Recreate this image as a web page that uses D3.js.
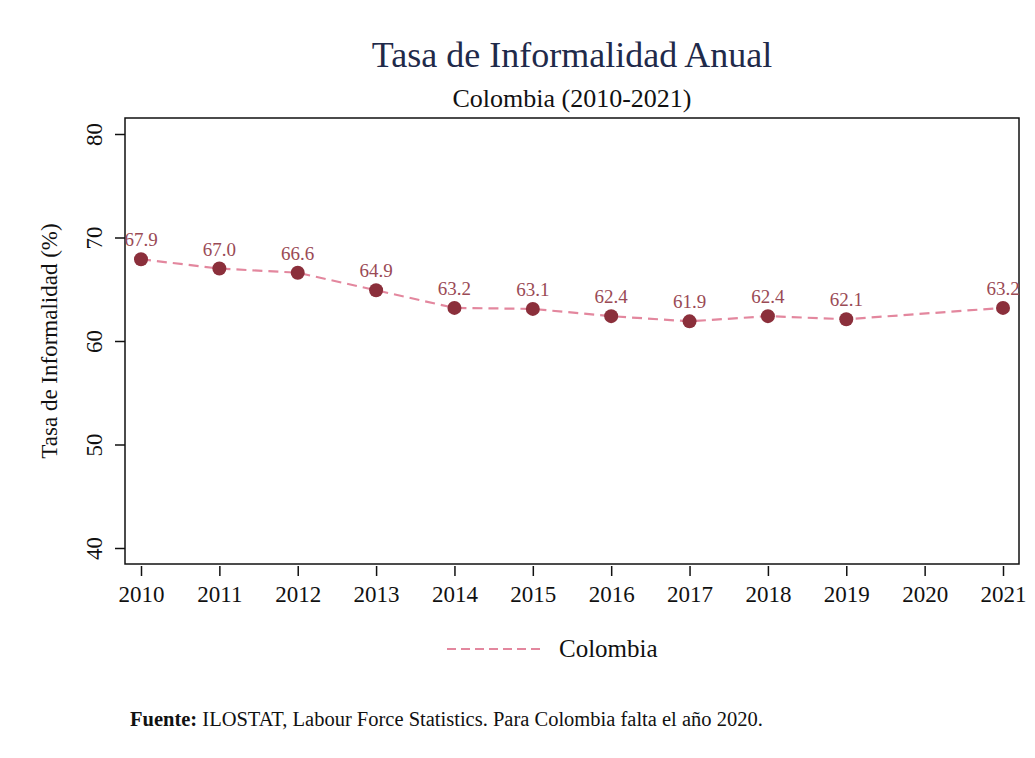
<!DOCTYPE html>
<html>
<head>
<meta charset="utf-8">
<script src="https://cdn.jsdelivr.net/npm/d3@7"></script>
<style>
  body { margin: 0; background: #fff; }
  svg text { font-family: "Liberation Serif", "DejaVu Serif", serif; }
</style>
</head>
<body>
<svg id="chart" width="1035" height="758"></svg>
<script>
var years = [2010, 2011, 2012, 2013, 2014, 2015, 2016, 2017, 2018, 2019, 2020, 2021];
var colombia = [67.9, 67.0, 66.6, 64.9, 63.2, 63.1, 62.4, 61.9, 62.4, 62.1, null, 63.2];
var yTicks = [40, 50, 60, 70, 80];

var data = years.map(function(y, i) { return {year: y, value: colombia[i]}; });
var points = data.filter(function(d) { return d.value !== null; });

var svg = d3.select("#chart");
var plotLeft = 125, plotRight = 1019, plotTop = 118, plotBottom = 564;

var x = d3.scalePoint().domain(years).range([141, 1003]);
var y = d3.scaleLinear().domain([40, 80]).range([548, 134]);

svg.append("rect")
    .attr("x", plotLeft).attr("y", plotTop)
    .attr("width", plotRight - plotLeft).attr("height", plotBottom - plotTop)
    .attr("fill", "none").attr("stroke", "#111").attr("stroke-width", 1.5);

var yAxis = svg.append("g")
    .attr("transform", "translate(" + plotLeft + ",0)")
    .call(d3.axisLeft(y).tickValues(yTicks).tickSize(10));
yAxis.select(".domain").remove();
yAxis.selectAll("line").attr("stroke", "#111").attr("stroke-width", 1.5);
yAxis.selectAll("text")
    .attr("font-size", 23).attr("fill", "#111")
    .attr("x", 0).attr("dy", 0).attr("y", 0)
    .attr("text-anchor", "middle")
    .attr("transform", "translate(-23,0) rotate(-90)");

var xAxis = svg.append("g")
    .attr("transform", "translate(0," + (plotBottom + 2) + ")")
    .call(d3.axisBottom(x).tickSize(10).tickPadding(10));
xAxis.select(".domain").remove();
xAxis.selectAll("line").attr("stroke", "#111").attr("stroke-width", 1.5);
xAxis.selectAll("text").attr("font-size", 23).attr("fill", "#111");

var line = d3.line()
    .x(function(d) { return x(d.year); })
    .y(function(d) { return y(d.value); });

svg.append("path")
    .datum(points)
    .attr("d", line)
    .attr("fill", "none")
    .attr("stroke", "#e3879e")
    .attr("stroke-width", 2.2)
    .attr("stroke-dasharray", "10,6");

svg.selectAll(".dot")
    .data(points).enter()
    .append("circle")
    .attr("class", "dot")
    .attr("cx", function(d) { return x(d.year); })
    .attr("cy", function(d) { return y(d.value); })
    .attr("r", 7)
    .attr("fill", "#8b2f3b");

svg.selectAll(".lab")
    .data(points).enter()
    .append("text")
    .attr("class", "lab")
    .attr("x", function(d) { return x(d.year); })
    .attr("y", function(d) { return y(d.value) - 13; })
    .attr("text-anchor", "middle")
    .attr("font-size", 19)
    .attr("fill", "#9a4a55")
    .text(function(d) { return d.value.toFixed(1); });

svg.append("text")
    .attr("transform", "translate(57,341) rotate(-90)")
    .attr("text-anchor", "middle")
    .attr("font-size", 23).attr("fill", "#111")
    .text("Tasa de Informalidad (%)");

svg.append("text")
    .attr("x", 572).attr("y", 67)
    .attr("text-anchor", "middle")
    .attr("font-size", 36).attr("fill", "#1f2a4a")
    .text("Tasa de Informalidad Anual");

svg.append("text")
    .attr("x", 572).attr("y", 107)
    .attr("text-anchor", "middle")
    .attr("font-size", 26).attr("fill", "#111")
    .text("Colombia (2010-2021)");

svg.append("line")
    .attr("x1", 447).attr("x2", 543).attr("y1", 649).attr("y2", 649)
    .attr("stroke", "#e3879e").attr("stroke-width", 2.2)
    .attr("stroke-dasharray", "9,5");
svg.append("text")
    .attr("x", 559).attr("y", 657)
    .attr("font-size", 25).attr("fill", "#111")
    .text("Colombia");

var foot = svg.append("text")
    .attr("x", 130).attr("y", 726)
    .attr("font-size", 20.5).attr("fill", "#111");
foot.append("tspan").attr("font-weight", "bold").text("Fuente:");
foot.append("tspan").text(" ILOSTAT, Labour Force Statistics. Para Colombia falta el año 2020.");
</script>
</body>
</html>
